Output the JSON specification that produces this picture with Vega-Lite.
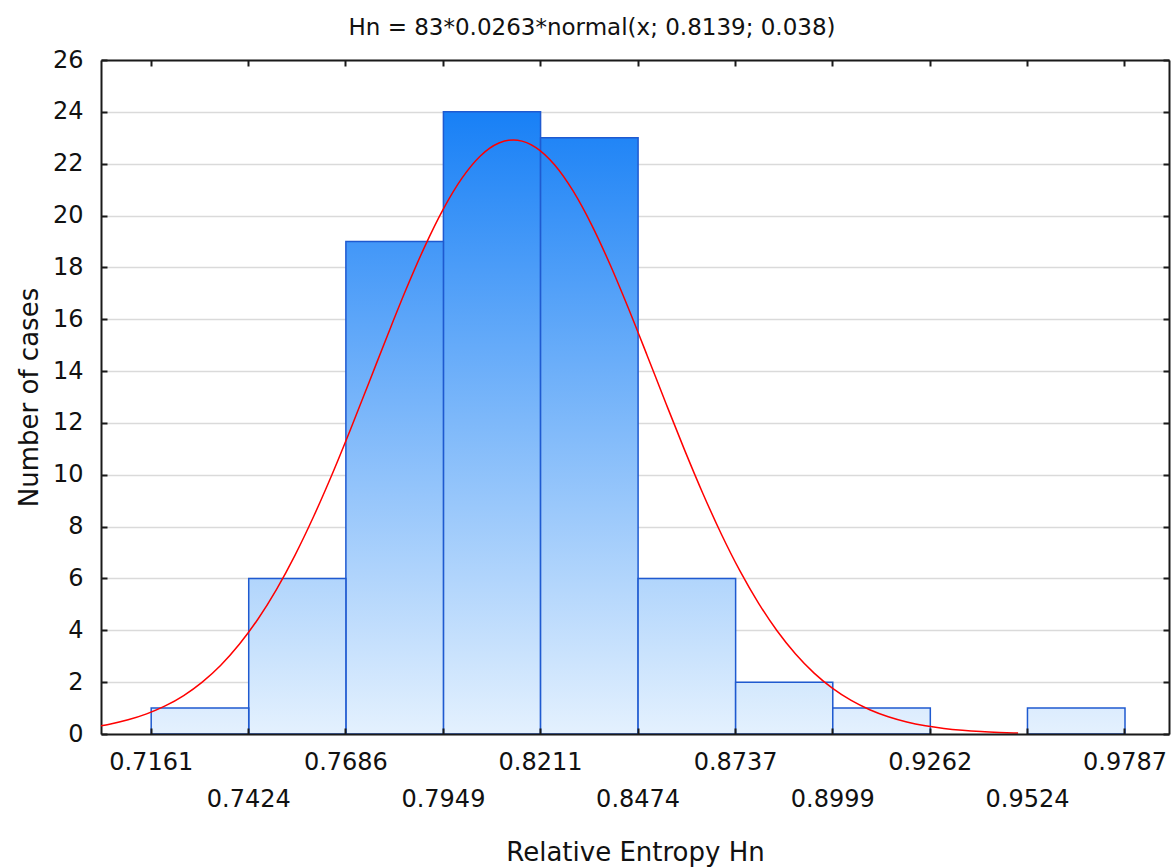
{
  "$schema": "https://vega.github.io/schema/vega-lite/v6.json",
  "width": 1068,
  "height": 674,
  "autosize": {"type": "none"},
  "padding": {"left": 101, "top": 60, "right": 2, "bottom": 133},
  "background": "white",
  "title": {
    "text": "Hn = 83*0.0263*normal(x; 0.8139; 0.038)",
    "font": "DejaVu Sans",
    "fontSize": 23,
    "fontWeight": "normal",
    "color": "#111111",
    "anchor": "middle",
    "dx": -43,
    "offset": 8
  },
  "config": {
    "view": {"stroke": null},
    "font": "DejaVu Sans",
    "bar": {"binSpacing": 0},
    "axis": {
      "labelFont": "DejaVu Sans",
      "titleFont": "DejaVu Sans",
      "labelColor": "#111111",
      "titleColor": "#111111",
      "titleFontWeight": "normal",
      "domainColor": "#1a1a1a",
      "domainWidth": 2,
      "tickColor": "#1a1a1a",
      "tickWidth": 2,
      "tickSize": -6,
      "labelOverlap": false,
      "labelFlush": false
    }
  },
  "datasets": {
    "bins": [
      {"bin_start": 0.7161, "bin_end": 0.7424, "count": 1},
      {"bin_start": 0.7424, "bin_end": 0.7686, "count": 6},
      {"bin_start": 0.7686, "bin_end": 0.7949, "count": 19},
      {"bin_start": 0.7949, "bin_end": 0.8211, "count": 24},
      {"bin_start": 0.8211, "bin_end": 0.8474, "count": 23},
      {"bin_start": 0.8474, "bin_end": 0.8737, "count": 6},
      {"bin_start": 0.8737, "bin_end": 0.8999, "count": 2},
      {"bin_start": 0.8999, "bin_end": 0.9262, "count": 1},
      {"bin_start": 0.9262, "bin_end": 0.9524, "count": 0},
      {"bin_start": 0.9524, "bin_end": 0.9787, "count": 1}
    ],
    "curve": [
      {"x": 0.7027, "y": 0.317},
      {"x": 0.705, "y": 0.377},
      {"x": 0.71, "y": 0.546},
      {"x": 0.715, "y": 0.775},
      {"x": 0.72, "y": 1.082},
      {"x": 0.725, "y": 1.484},
      {"x": 0.73, "y": 2.003},
      {"x": 0.735, "y": 2.654},
      {"x": 0.74, "y": 3.459},
      {"x": 0.745, "y": 4.428},
      {"x": 0.75, "y": 5.573},
      {"x": 0.755, "y": 6.894},
      {"x": 0.76, "y": 8.381},
      {"x": 0.765, "y": 10.012},
      {"x": 0.77, "y": 11.759},
      {"x": 0.775, "y": 13.571},
      {"x": 0.78, "y": 15.393},
      {"x": 0.785, "y": 17.163},
      {"x": 0.79, "y": 18.803},
      {"x": 0.795, "y": 20.249},
      {"x": 0.8, "y": 21.434},
      {"x": 0.805, "y": 22.298},
      {"x": 0.81, "y": 22.796},
      {"x": 0.8139, "y": 22.917},
      {"x": 0.815, "y": 22.907},
      {"x": 0.82, "y": 22.624},
      {"x": 0.825, "y": 21.96},
      {"x": 0.83, "y": 20.949},
      {"x": 0.835, "y": 19.642},
      {"x": 0.84, "y": 18.102},
      {"x": 0.845, "y": 16.395},
      {"x": 0.85, "y": 14.594},
      {"x": 0.855, "y": 12.77},
      {"x": 0.86, "y": 10.98},
      {"x": 0.865, "y": 9.279},
      {"x": 0.87, "y": 7.707},
      {"x": 0.875, "y": 6.291},
      {"x": 0.88, "y": 5.049},
      {"x": 0.885, "y": 3.981},
      {"x": 0.89, "y": 3.085},
      {"x": 0.895, "y": 2.349},
      {"x": 0.9, "y": 1.76},
      {"x": 0.905, "y": 1.294},
      {"x": 0.91, "y": 0.936},
      {"x": 0.915, "y": 0.666},
      {"x": 0.92, "y": 0.465},
      {"x": 0.925, "y": 0.319},
      {"x": 0.93, "y": 0.215},
      {"x": 0.935, "y": 0.143},
      {"x": 0.94, "y": 0.093},
      {"x": 0.945, "y": 0.06},
      {"x": 0.95, "y": 0.038}
    ]
  },
  "data": {"name": "bins"},
  "layer": [
    {
      "transform": [{"filter": "datum.count == 24"}],
      "mark": {
        "type": "bar",
        "binSpacing": 0,
        "fill": {"gradient": "linear", "x1": 0, "y1": 0, "x2": 0, "y2": 1,
          "stops": [{"offset": 0, "color": "#1880F6"}, {"offset": 1, "color": "#E4F1FE"}]},
        "stroke": "#1F5AD0",
        "strokeWidth": 1.5
      },
      "encoding": {
        "x": {
          "field": "bin_start",
          "type": "quantitative",
          "bin": "binned",
          "scale": {"domain": [0.7027, 0.9907], "nice": false, "zero": false},
          "axis": {
            "orient": "bottom",
            "title": "Relative Entropy Hn",
            "values": [0.7161, 0.7424, 0.7686, 0.7949, 0.8211, 0.8474, 0.8737, 0.8999, 0.9262, 0.9524, 0.9787],
            "format": ".4f",
            "grid": false,
            "labelFontSize": 24,
            "labelPadding": {
              "condition": {"test": "indexof([0.7424, 0.7949, 0.8474, 0.8999, 0.9524], datum.value) >= 0", "value": 59},
              "value": 22
            },
            "titleFontSize": 26,
            "titlePadding": 28,
            "zindex": 1
          }
        },
        "x2": {"field": "bin_end"},
        "y": {
          "field": "count",
          "type": "quantitative",
          "scale": {"domain": [0, 26], "nice": false, "zero": true},
          "axis": {
            "orient": "left",
            "title": "Number of cases",
            "values": [0, 2, 4, 6, 8, 10, 12, 14, 16, 18, 20, 22, 24, 26],
            "grid": true,
            "gridColor": "#DADADA",
            "gridWidth": 1.5,
            "labelFontSize": 24,
            "labelPadding": 24,
            "titleFontSize": 26,
            "titlePadding": 10,
            "zindex": 0
          }
        }
      }
    },
    {
      "transform": [{"filter": "datum.count == 23"}],
      "mark": {
        "type": "bar",
        "binSpacing": 0,
        "fill": {"gradient": "linear", "x1": 0, "y1": 0, "x2": 0, "y2": 1,
          "stops": [{"offset": 0, "color": "#2185F6"}, {"offset": 1, "color": "#E4F1FE"}]},
        "stroke": "#1F5AD0",
        "strokeWidth": 1.5
      },
      "encoding": {
        "x": {"field": "bin_start", "type": "quantitative", "bin": "binned", "axis": null},
        "x2": {"field": "bin_end"},
        "y": {"field": "count", "type": "quantitative", "axis": null}
      }
    },
    {
      "transform": [{"filter": "datum.count == 19"}],
      "mark": {
        "type": "bar",
        "binSpacing": 0,
        "fill": {"gradient": "linear", "x1": 0, "y1": 0, "x2": 0, "y2": 1,
          "stops": [{"offset": 0, "color": "#4297F8"}, {"offset": 1, "color": "#E4F1FE"}]},
        "stroke": "#1F5AD0",
        "strokeWidth": 1.5
      },
      "encoding": {
        "x": {"field": "bin_start", "type": "quantitative", "bin": "binned", "axis": null},
        "x2": {"field": "bin_end"},
        "y": {"field": "count", "type": "quantitative", "axis": null}
      }
    },
    {
      "transform": [{"filter": "datum.count == 6"}],
      "mark": {
        "type": "bar",
        "binSpacing": 0,
        "fill": {"gradient": "linear", "x1": 0, "y1": 0, "x2": 0, "y2": 1,
          "stops": [{"offset": 0, "color": "#B1D5FC"}, {"offset": 1, "color": "#E4F1FE"}]},
        "stroke": "#1F5AD0",
        "strokeWidth": 1.5
      },
      "encoding": {
        "x": {"field": "bin_start", "type": "quantitative", "bin": "binned", "axis": null},
        "x2": {"field": "bin_end"},
        "y": {"field": "count", "type": "quantitative", "axis": null}
      }
    },
    {
      "transform": [{"filter": "datum.count == 2"}],
      "mark": {
        "type": "bar",
        "binSpacing": 0,
        "fill": {"gradient": "linear", "x1": 0, "y1": 0, "x2": 0, "y2": 1,
          "stops": [{"offset": 0, "color": "#D3E8FD"}, {"offset": 1, "color": "#E4F1FE"}]},
        "stroke": "#1F5AD0",
        "strokeWidth": 1.5
      },
      "encoding": {
        "x": {"field": "bin_start", "type": "quantitative", "bin": "binned", "axis": null},
        "x2": {"field": "bin_end"},
        "y": {"field": "count", "type": "quantitative", "axis": null}
      }
    },
    {
      "transform": [{"filter": "datum.count == 1"}],
      "mark": {
        "type": "bar",
        "binSpacing": 0,
        "fill": {"gradient": "linear", "x1": 0, "y1": 0, "x2": 0, "y2": 1,
          "stops": [{"offset": 0, "color": "#DCECFE"}, {"offset": 1, "color": "#E4F1FE"}]},
        "stroke": "#1F5AD0",
        "strokeWidth": 1.5
      },
      "encoding": {
        "x": {"field": "bin_start", "type": "quantitative", "bin": "binned", "axis": null},
        "x2": {"field": "bin_end"},
        "y": {"field": "count", "type": "quantitative", "axis": null}
      }
    },
    {
      "data": {"name": "curve"},
      "mark": {"type": "line", "color": "#FF0000", "strokeWidth": 1.5, "interpolate": "monotone"},
      "encoding": {
        "x": {
          "field": "x",
          "type": "quantitative",
          "axis": {
            "orient": "top",
            "title": null,
            "labels": false,
            "grid": false,
            "values": [0.7161, 0.7424, 0.7686, 0.7949, 0.8211, 0.8474, 0.8737, 0.8999, 0.9262, 0.9524, 0.9787],
            "zindex": 1
          }
        },
        "y": {
          "field": "y",
          "type": "quantitative",
          "axis": {
            "orient": "right",
            "title": null,
            "labels": false,
            "grid": false,
            "values": [0, 2, 4, 6, 8, 10, 12, 14, 16, 18, 20, 22, 24, 26],
            "zindex": 1
          }
        }
      }
    }
  ],
  "resolve": {"axis": {"x": "independent", "y": "independent"}}
}
